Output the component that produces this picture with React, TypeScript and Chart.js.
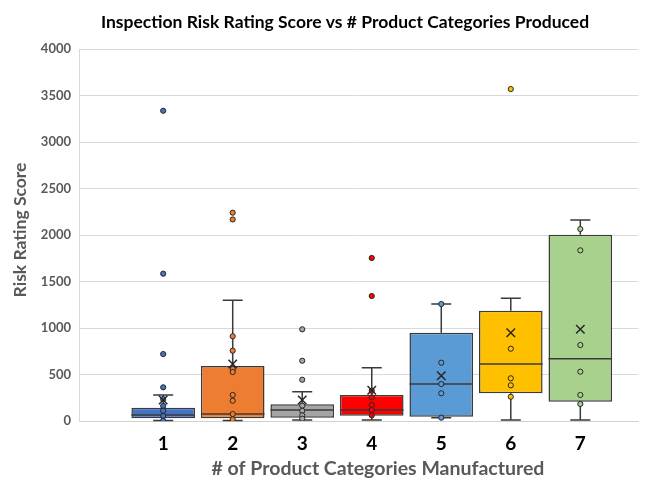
import React, { useEffect, useRef } from "react";
import { Chart, registerables } from "chart.js";

Chart.register(...registerables);

const titleText = "Inspection Risk Rating Score vs # Product Categories Produced";
const xTitleText = "# of Product Categories Manufactured";
const yTitleText = "Risk Rating Score";

const categories = ["1", "2", "3", "4", "5", "6", "7"];
const categoryValues = [1, 2, 3, 4, 5, 6, 7];
const boxColors = ["#4472C4", "#ED7D31", "#A5A5A5", "#FF0000", "#5B9BD5", "#FFC000", "#A9D18E"];

const whiskerLow = [5, 5, 10, 10, 36, 10, 10];
const q1 = [29, 29, 36, 57, 47, 298, 208];
const median = [65, 75, 118, 118, 398, 613, 670];
const q3 = [143, 591, 180, 280, 949, 1186, 2003];
const whiskerHigh = [280, 1298, 315, 573, 1258, 1319, 2161];
const means = [225, 613, 226, 330, 487, 949, 986];

const points1 = [3336, 1584, 720, 362, 235, 162, 110, 54, 4];
const points2 = [2240, 2167, 911, 756, 560, 527, 280, 218, 75, 18];
const points3 = [986, 648, 444, 165, 110, 60, 25];
const points4 = [1753, 1344, 326, 255, 172, 118, 61];
const points5 = [1258, 627, 398, 298, 36];
const points6 = [3569, 777, 459, 384, 261];
const points7 = [2064, 1835, 817, 530, 280, 183];
const allPoints = [points1, points2, points3, points4, points5, points6, points7];

const yTicks = [0, 500, 1000, 1500, 2000, 2500, 3000, 3500, 4000];

const lineColor = "#3a3a3a";

const boxPlugin = {
  id: "boxParts",
  beforeDatasetsDraw(chart: any) {
    const { ctx } = chart;
    const xs = chart.scales.x;
    const ys = chart.scales.y;
    ctx.save();
    ctx.strokeStyle = lineColor;
    ctx.lineWidth = 1.5;
    categoryValues.forEach((v, i) => {
      const px = xs.getPixelForValue(v);
      const lo = ys.getPixelForValue(whiskerLow[i]);
      const hi = ys.getPixelForValue(whiskerHigh[i]);
      const b = ys.getPixelForValue(q1[i]);
      const t = ys.getPixelForValue(q3[i]);
      ctx.beginPath();
      ctx.moveTo(px, b);
      ctx.lineTo(px, lo);
      ctx.moveTo(px, t);
      ctx.lineTo(px, hi);
      ctx.moveTo(px - 10, lo);
      ctx.lineTo(px + 10, lo);
      ctx.moveTo(px - 10, hi);
      ctx.lineTo(px + 10, hi);
      ctx.stroke();
    });
    ctx.restore();
  },
  afterDatasetDraw(chart: any, args: any) {
    if (args.index !== 0) return;
    const { ctx } = chart;
    const ys = chart.scales.y;
    const meta = chart.getDatasetMeta(0);
    ctx.save();
    ctx.strokeStyle = lineColor;
    ctx.lineWidth = 1.5;
    meta.data.forEach((bar: any, i: number) => {
      const py = ys.getPixelForValue(median[i]);
      ctx.beginPath();
      ctx.moveTo(bar.x - bar.width / 2, py);
      ctx.lineTo(bar.x + bar.width / 2, py);
      ctx.stroke();
    });
    ctx.restore();
  },
};

const textPlugin = {
  id: "texts",
  afterDraw(chart: any) {
    const { ctx } = chart;
    ctx.save();
    ctx.textAlign = "center";
    ctx.textBaseline = "middle";
    ctx.fillStyle = "#000000";
    ctx.font = "bold 17.5px Lato";
    ctx.fillText(titleText, 345, 22);
    ctx.fillStyle = "#595959";
    ctx.font = "bold 19.5px Lato";
    ctx.fillText(xTitleText, 378, 469);
    ctx.translate(20, 230);
    ctx.rotate(-Math.PI / 2);
    ctx.font = "bold 17.5px Lato";
    ctx.fillText(yTitleText, 0, 0);
    ctx.restore();
  },
};

export default function App() {
  const ref = useRef<HTMLCanvasElement>(null);
  useEffect(() => {
    if (!ref.current) return;
    const pointDatasets = allPoints.map((pts, i) => ({
      type: "scatter" as const,
      data: pts.map((v) => ({ x: categoryValues[i], y: v })),
      backgroundColor: boxColors[i],
      borderColor: "#262626",
      borderWidth: 1,
      pointRadius: 2.6,
      pointHoverRadius: 2.6,
      order: 1,
    }));
    const chart = new Chart(ref.current, {
      type: "bar",
      data: {
        datasets: [
          {
            type: "bar",
            data: categoryValues.map((v, i) => ({ x: v, y: [q1[i], q3[i]] })) as any,
            backgroundColor: boxColors,
            borderColor: lineColor,
            borderWidth: 1.5,
            borderSkipped: false,
            barPercentage: 0.915,
            categoryPercentage: 1,
            order: 3,
          } as any,
          ...pointDatasets,
          {
            type: "scatter",
            data: categoryValues.map((v, i) => ({ x: v, y: means[i] })),
            pointStyle: "crossRot",
            pointRadius: 6,
            borderColor: "#262626",
            borderWidth: 1.5,
            backgroundColor: "transparent",
            order: 0,
          } as any,
        ],
      },
      options: {
        animation: false,
        responsive: false,
        maintainAspectRatio: false,
        layout: { padding: { top: 49, right: 0, left: 0, bottom: 0 } },
        plugins: {
          legend: { display: false },
          title: { display: false },
          tooltip: { enabled: false },
        },
        scales: {
          x: {
            type: "linear",
            offset: false,
            min: -0.211,
            max: 7.837,
            afterBuildTicks: (s: any) => {
              s.ticks = categoryValues.map((v) => ({ value: v }));
            },
            afterFit: (s: any) => {
              s.height = 60;
            },
            grid: { display: false, drawTicks: false, offset: false },
            border: { display: true, color: "#d0d0d0", width: 1 },
            ticks: {
              padding: 11,
              color: "#000000",
              font: { family: "Lato", size: 19, weight: "bold" },
              callback: (v: any) => categories[categoryValues.indexOf(Number(v))] ?? "",
            },
          },
          y: {
            type: "linear",
            min: 0,
            max: 4000,
            afterBuildTicks: (s: any) => {
              s.ticks = yTicks.map((v) => ({ value: v }));
            },
            afterFit: (s: any) => {
              s.width = 79;
            },
            grid: { color: "#d9d9d9", lineWidth: 1, drawTicks: false },
            border: { display: true, color: "#d9d9d9", width: 1 },
            ticks: {
              padding: 8,
              color: "#595959",
              font: { family: "Lato", size: 13, weight: "bold" },
              callback: (v: any) => String(v),
            },
          },
        },
      },
      plugins: [boxPlugin, textPlugin],
    });
    return () => chart.destroy();
  }, []);
  return (
    <div style={{ position: "absolute", left: 0, top: 0, width: 646, height: 481, background: "#ffffff" }}>
      <canvas ref={ref} width={646} height={481} style={{ width: 646, height: 481 }} />
    </div>
  );
}
